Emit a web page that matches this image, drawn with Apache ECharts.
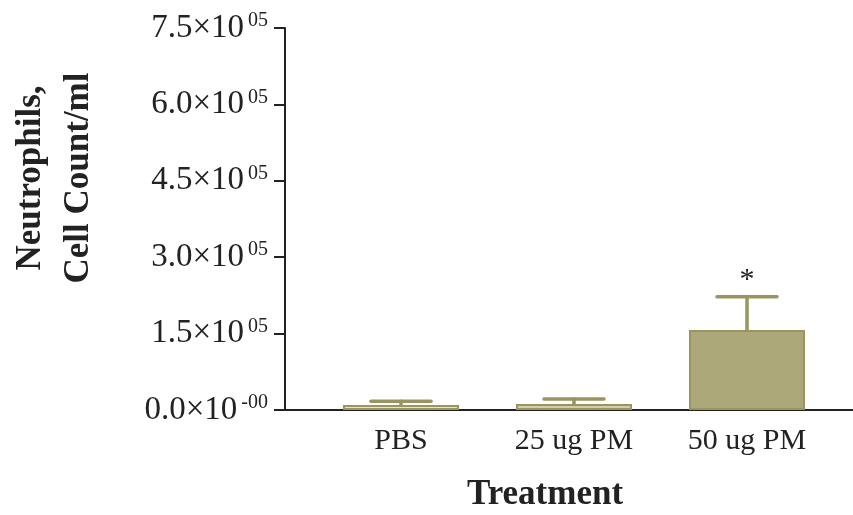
<!DOCTYPE html>
<html>
<head>
<meta charset="utf-8">
<script src="https://cdn.jsdelivr.net/npm/echarts@6/dist/echarts.min.js"></script>
<style>html,body{margin:0;padding:0;background:#fff}#c{width:853px;height:515px}</style>
</head>
<body>
<div id="c"></div>
<script>
const categories = ['PBS', '25 ug PM', '50 ug PM'];
const means = [10000, 12000, 157000];
const errTops = [17000, 21500, 222500];
const significance = ['', '', '*'];
const barColors = ['#e9e5c9', '#d3cfa9', '#ada87a'];
const yTickValues = [0, 150000, 300000, 450000, 600000, 750000];
const yTickLabels = ['0.0×10|-00', '1.5×10|05', '3.0×10|05', '4.5×10|05', '6.0×10|05', '7.5×10|05'];

const FONT = 'Liberation Serif';
const EDGE = '#9a9560';

const chart = echarts.init(document.getElementById('c'), null, {renderer: 'canvas'});
chart.setOption({
  animation: false,
  backgroundColor: '#fff',
  grid: [
    {left: 314.5, right: 19.5, top: 28, bottom: 105},
    {left: 285, right: 0, top: 28, bottom: 105}
  ],
  xAxis: [
    {
      type: 'category', gridIndex: 0, data: categories,
      axisLine: {show: false}, axisTick: {show: false},
      axisLabel: {fontFamily: FONT, fontSize: 30, color: '#222', margin: 16}
    },
    {
      type: 'category', gridIndex: 1, data: [''],
      axisLine: {show: true, lineStyle: {color: '#222', width: 2}},
      axisTick: {show: false}, axisLabel: {show: false}
    }
  ],
  yAxis: [
    {
      type: 'value', gridIndex: 0, min: 0, max: 750000, interval: 150000,
      offset: 29.5,
      splitLine: {show: false},
      axisLine: {show: true, lineStyle: {color: '#222', width: 2}},
      axisTick: {show: true, length: 11, lineStyle: {color: '#222', width: 2}},
      axisLabel: {
        margin: 17,
        formatter: function (v) {
          const i = yTickValues.indexOf(v);
          const parts = yTickLabels[i].split('|');
          return '{m|' + parts[0] + '}{e|' + parts[1] + '}';
        },
        rich: {
          m: {fontFamily: FONT, fontSize: 33, color: '#222', lineHeight: 36},
          e: {fontFamily: FONT, fontSize: 20, color: '#222', padding: [0, 0, 14, 4]}
        }
      }
    },
    {type: 'value', gridIndex: 1, show: false}
  ],
  series: [
    {
      type: 'bar', xAxisIndex: 0, yAxisIndex: 0,
      barWidth: 116,
      data: means.map((v, i) => ({value: v, itemStyle: {color: barColors[i]}})),
      itemStyle: {borderColor: EDGE, borderWidth: 2},
      z: 2
    },
    {
      type: 'custom', xAxisIndex: 0, yAxisIndex: 0, z: 3,
      data: means.map((v, i) => [i, v, errTops[i], significance[i]]),
      renderItem: function (params, api) {
        const x = api.coord([api.value(0), 0])[0];
        const yMean = api.coord([api.value(0), api.value(1)])[1];
        const yTop = api.coord([api.value(0), api.value(2)])[1];
        const half = 30;
        const style = {stroke: EDGE, lineWidth: 3.5, lineCap: 'round'};
        const children = [
          {type: 'line', shape: {x1: x, y1: yMean, x2: x, y2: yTop}, style: style},
          {type: 'line', shape: {x1: x - half, y1: yTop, x2: x + half, y2: yTop}, style: style}
        ];
        const sig = significance[params.dataIndex];
        if (sig) {
          children.push({type: 'text', style: {text: sig, x: x, y: yTop - 2, align: 'center', verticalAlign: 'bottom',
            font: '30px "' + FONT + '"', fill: '#222'}});
        }
        return {type: 'group', children: children};
      }
    }
  ],
  graphic: [
    {
      type: 'text', x: 545, y: 477,
      style: {text: 'Treatment', font: 'bold 35px "' + FONT + '"', fill: '#222', align: 'center', verticalAlign: 'top'}
    },
    {
      type: 'text', x: 55, y: 178, rotation: Math.PI / 2,
      style: {text: 'Neutrophils,\nCell Count/ml', font: 'bold 35px "' + FONT + '"', fill: '#222',
        align: 'center', verticalAlign: 'middle', lineHeight: 48}
    }
  ]
});
</script>
</body>
</html>
